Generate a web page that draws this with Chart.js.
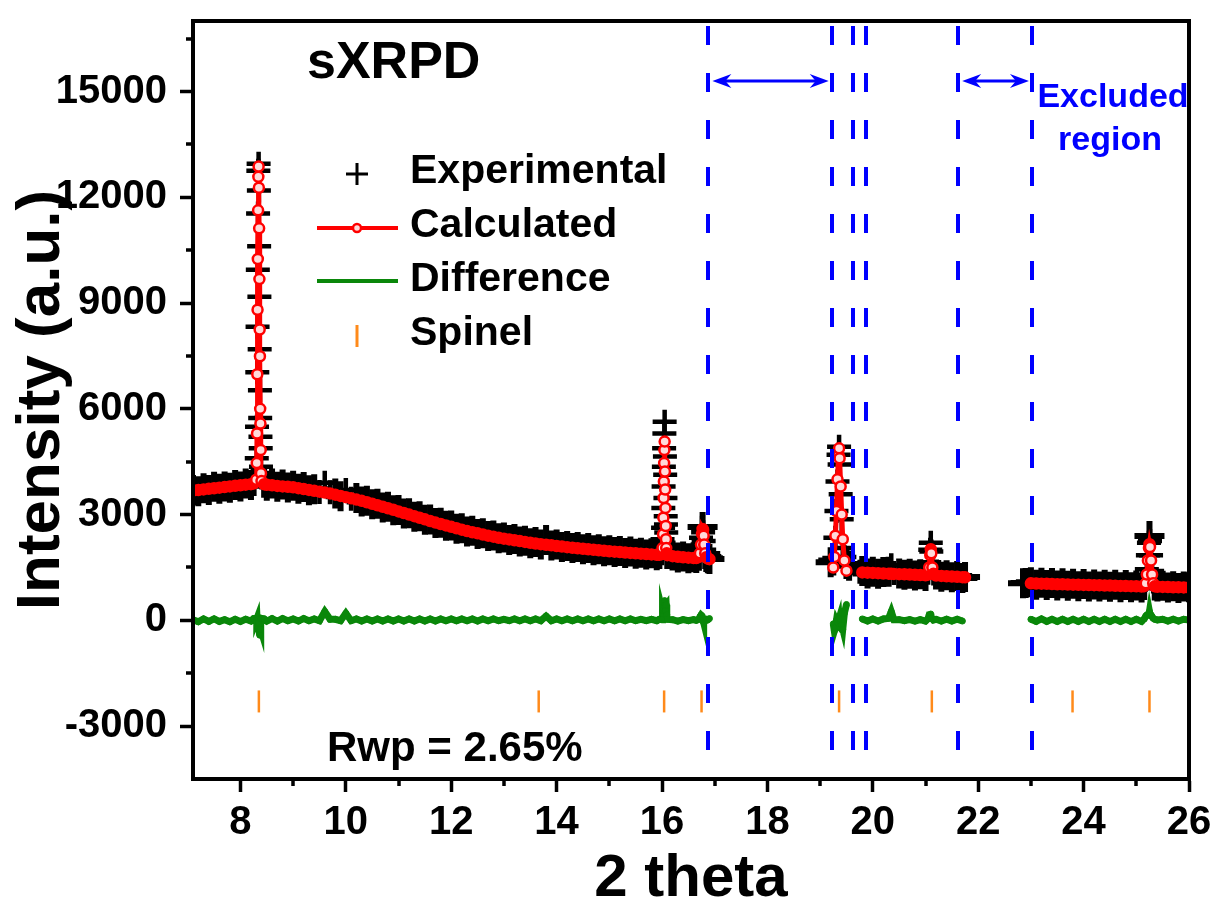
<!DOCTYPE html>
<html>
<head>
<meta charset="utf-8">
<title>sXRPD refinement</title>
<script src="https://cdn.jsdelivr.net/npm/chart.js@4.4.1/dist/chart.umd.min.js"></script>
<style>
  html, body { margin: 0; padding: 0; background: #fff; }
  #wrap { width: 1217px; height: 905px; }
</style>
</head>
<body>
<div id="wrap"><canvas id="xrpd" width="1217" height="905"></canvas></div>
<script>
// 2 theta positions (null rows in the series mark the gaps of the excluded regions)
const twoTheta = [
    7.1, 7.2, 7.3, 7.4, 7.5, 7.6, 7.7, 7.8, 7.9, 8.0, 8.1, 8.2, 8.25,
    8.30, 8.31, 8.315, 8.32, 8.325, 8.33, 8.335, 8.34, 8.345, 8.35, 8.355, 8.36, 8.365, 8.37, 8.375, 8.38, 8.385, 8.39, 8.40,
    8.45, 8.5, 8.6, 8.7, 8.8, 8.9, 9.0, 9.1, 9.2, 9.3,
    9.4, 9.5, 9.6, 9.7, 9.8, 9.9, 10.0, 10.1, 10.2, 10.3,
    10.4, 10.5, 10.6, 10.7, 10.8, 10.9, 11.0, 11.1, 11.2, 11.3,
    11.4, 11.5, 11.6, 11.7, 11.8, 11.9, 12.0, 12.1, 12.2, 12.3,
    12.4, 12.5, 12.6, 12.7, 12.8, 12.9, 13.0, 13.1, 13.2, 13.3,
    13.4, 13.5, 13.6, 13.7, 13.8, 13.9, 14.0, 14.1, 14.2, 14.3,
    14.4, 14.5, 14.6, 14.7, 14.8, 14.9, 15.0, 15.1, 15.2, 15.3,
    15.4, 15.5, 15.6, 15.7, 15.8, 15.9, 15.95,
    16.00, 16.01, 16.02, 16.025, 16.03, 16.035, 16.04, 16.045, 16.05, 16.055, 16.06, 16.065, 16.07, 16.075, 16.08, 16.09, 16.10,
    16.2, 16.3, 16.4, 16.5, 16.6, 16.65,
    16.70, 16.72, 16.74, 16.76, 16.77, 16.78, 16.79, 16.80, 16.82, 16.84, 16.87, 16.9,
    18.0,
    19.20, 19.25, 19.27, 19.29, 19.31, 19.33, 19.35, 19.36, 19.37, 19.39, 19.41, 19.43, 19.46, 19.50, 19.55, 19.62,
    19.75, 19.8, 19.9, 20.0, 20.1, 20.2, 20.3, 20.35, 20.4, 20.5, 20.6, 20.7, 20.8, 20.9, 21.0,
    21.05, 21.07, 21.09, 21.10, 21.11, 21.13, 21.15, 21.2, 21.3, 21.4, 21.5, 21.6, 21.7, 21.75,
    22.3,
    22.85, 22.9, 23.0, 23.1, 23.2, 23.3, 23.4, 23.5, 23.6, 23.7,
    23.8, 23.9, 24.0, 24.1, 24.2, 24.3, 24.4, 24.5, 24.6, 24.7,
    24.8, 24.9, 25.0, 25.1, 25.15, 25.18, 25.2, 25.22, 25.24, 25.25,
    25.26, 25.28, 25.3, 25.32, 25.35, 25.4, 25.5, 25.6, 25.7, 25.8,
    25.9, 26.0
];

const experimental = [
    3700, 3660, 3750, 3700, 3790, 3730, 3800, 3760, 3840, 3800, 3880, 3840, 3950,
    4100, 4600, 5490, 7040, 8330, 9945, 11540, 12750, 12950, 12190, 10610, 9180, 7690, 6530, 5740, 5210, 4880, 4360, 4050,
    3900, 3820, 3880, 3790, 3850, 3770, 3820, 3730, 3780, 3690,
    3720, 3640, 3900, 3630, 3600, 3520, 3700, 3450, 3470, 3370,
    3390, 3290, 3310, 3200, 3220, 3120, 3130, 3030, 3040, 2940,
    2950, 2850, 2860, 2760, 2770, 2680, 2690, 2600, 2610, 2520,
    2540, 2450, 2470, 2390, 2410, 2330, 2350, 2280, 2310, 2240,
    2260, 2190, 2220, 2150, 2280, 2120, 2150, 2080, 2110, 2050,
    2080, 2020, 2050, 1990, 2020, 1960, 1990, 1940, 1970, 1910,
    1950, 1890, 1920, 1870, 1900, 1850, 1880,
    1900, 2300, 2630, 3190, 3800, 4360, 4880, 5300, 5630, 4645, 4130, 3470, 2955, 2720, 2490, 2060, 1880,
    1840, 1780, 1810, 1760, 1790, 1770,
    1830, 2000, 2345, 2630, 2650, 2500, 2250, 2000, 1880, 1800, 1760, 1740,
    null,
    1650, 1700, 1770, 2340, 3100, 3940, 4700, 4926, 4420, 3575, 2870, 2055, 1800, 1600, 1550, 1620,
    1380, 1400, 1330, 1380, 1320, 1370, 1380, 1560, 1340, 1330, 1290, 1320, 1270, 1310, 1260,
    1350, 1650, 2000, 2200, 1950, 1550, 1330, 1300, 1240, 1280, 1220, 1260, 1200, 1230,
    null,
    1050, 1060, 1080, 1010, 1070, 1000, 1060, 990, 1050, 980,
    1040, 970, 1030, 960, 1020, 960, 1010, 950, 1010, 940,
    1000, 940, 990, 930, 1000, 1150, 1450, 1850, 2200, 2390,
    2250, 1850, 1400, 1100, 990, 960, 980, 930, 970, 920,
    960, 940
];

const calculated = [
    3680, 3697, 3714, 3730, 3747, 3764, 3781, 3798, 3815, 3832, 3849, 3863, 3880,
    3990, 4460, 5300, 6980, 8810, 10250, 11630, 12580, 12870, 12270, 11120, 9680, 8250, 7490, 6000, 5580, 4830, 4170, 3950,
    3860, 3846, 3830, 3814, 3800, 3786, 3772, 3750, 3726, 3700,
    3675, 3650, 3625, 3600, 3565, 3530, 3495, 3460, 3425, 3390,
    3350, 3307, 3265, 3222, 3180, 3138, 3090, 3045, 3000, 2955,
    2910, 2865, 2818, 2773, 2733, 2692, 2652, 2612, 2572, 2533,
    2500, 2467, 2435, 2403, 2373, 2343, 2318, 2295, 2272, 2248,
    2225, 2202, 2180, 2162, 2145, 2128, 2110, 2093, 2076, 2060,
    2045, 2030, 2016, 2002, 1988, 1974, 1961, 1948, 1936, 1924,
    1913, 1902, 1892, 1882, 1870, 1860, 1858,
    1880, 2050, 2440, 2910, 3470, 3940, 4460, 4830, 5070, 4220, 3710, 3190, 2675, 2300, 2050, 1900, 1850,
    1820, 1805, 1790, 1778, 1768, 1765,
    1800, 1900, 2150, 2450, 2590, 2560, 2400, 2150, 1900, 1790, 1750, 1736,
    null,
    null, 1500, 1800, 2400, 3100, 4000, 4700, 4880, 4600, 3800, 3000, 2300, 1700, 1410, null, null,
    null, 1360, 1352, 1345, 1338, 1330, 1324, 1320, 1318, 1311, 1305, 1298, 1290, 1285, 1280,
    1300, 1500, 1850, 2020, 1900, 1500, 1320, 1270, 1260, 1250, 1243, 1235, 1225, 1220,
    null,
    null, null, 1050, 1045, 1040, 1035, 1030, 1025, 1021, 1017,
    1013, 1009, 1005, 1001, 997, 993, 989, 985, 981, 977,
    973, 969, 965, 961, 970, 1050, 1300, 1700, 2050, 2160,
    2080, 1700, 1300, 1050, 965, 952, 948, 944, 940, 936,
    933, 930
];

const difference = [
    20, -40, 40, -30, 40, -30, 20, -40, 30, -30, 30, -20, 50,
    60, 40, 60, 20, -250, -200, -60, 60, 30, -60, -300, -350, -420, -250, -200, -250, 20, 60, 50,
    40, -20, 50, -20, 50, -10, 40, -20, 50, -10,
    40, -10, 250, 30, 30, -10, 200, -10, 40, -20,
    40, -20, 40, -20, 40, -20, 40, -20, 40, -20,
    40, -20, 40, -20, 40, -10, 40, -10, 40, -10,
    40, -20, 40, -10, 40, -10, 30, -10, 40, -10,
    40, -10, 40, -10, 120, -10, 40, -10, 40, -10,
    40, -10, 40, -10, 40, -10, 40, -10, 40, -10,
    40, -10, 30, -10, 30, -10, 30,
    20, 250, 190, 280, 330, 420, 420, 470, 560, 425, 420, 280, 280, 420, 440, 160, 30,
    20, -20, 20, -10, 20, 0,
    30, 100, 150, 120, 60, 0, -50, -60, 0, 30, 20, 50,
    null,
    null, -100, -300, -200, 0, -60, 0, 50, -180, -220, -130, -250, 200, 450, null, null,
    null, 40, -20, 40, -20, 40, 60, 250, 20, 20, -10, 20, -20, 20, -20,
    50, 150, 150, 180, 50, 50, 10, 30, -20, 30, -20, 30, -20, null,
    null,
    null, null, 30, -30, 40, -30, 30, -30, 30, -30,
    30, -30, 30, -30, 30, -30, 30, -30, 30, -30,
    30, -30, 30, -30, 40, 120, 150, 150, 150, 250,
    170, 150, 100, 60, 30, 10, 30, -20, 30, -20,
    30, 10
];

const spinelPeaks = [8.35, 13.66, 16.04, 16.75, 19.36, 21.12, 23.79, 25.25];
const spinelLevel = -2300;

const excludedLines = [16.88, 19.22, 19.62, 19.87, 21.62, 23.02];
const excludedArrows = [[16.88, 19.22], [21.62, 23.02]];
const arrowLevel = 15300;

const xTicks = [8, 10, 12, 14, 16, 18, 20, 22, 24, 26];
const xMinorTicks = [9, 11, 13, 15, 17, 19, 21, 23, 25];
const yTicks = [-3000, 0, 3000, 6000, 9000, 12000, 15000];
const yMinorTicks = [-1500, 1500, 4500, 7500, 10500, 13500, 16500];

if (experimental.length !== twoTheta.length || calculated.length !== twoTheta.length || difference.length !== twoTheta.length) {
    console.warn("length mismatch", twoTheta.length, experimental.length, calculated.length, difference.length);
}

const FONT = "'Liberation Sans', Arial, sans-serif";
Chart.defaults.font.family = FONT;
Chart.defaults.color = "#000";

function pairUp(ys) {
    return twoTheta.map((x, i) => ({ x: x, y: ys[i] === undefined ? null : ys[i] }));
}

// true when a point sits on a steep peak flank rather than on the background
function onPeak(ctx) {
    const d = ctx.dataset.data, i = ctx.dataIndex;
    const cur = d[i] ? d[i].y : null;
    const prev = d[i - 1] ? d[i - 1].y : null;
    const next = d[i + 1] ? d[i + 1].y : null;
    if (cur == null) return false;
    return (prev != null && Math.abs(cur - prev) > 200) || (next != null && Math.abs(next - cur) > 200);
}

function drawArrowHead(ctx, tipX, y, dir) {
    ctx.beginPath();
    ctx.moveTo(tipX, y);
    ctx.lineTo(tipX + dir * 19, y - 7);
    ctx.lineTo(tipX + dir * 13, y);
    ctx.lineTo(tipX + dir * 19, y + 7);
    ctx.closePath();
    ctx.fill();
}

const decorations = {
    id: "decorations",
    afterDatasetsDraw(chart) {
        const { ctx, chartArea: a, scales: { x, y } } = chart;
        ctx.save();

        // excluded region markers
        ctx.strokeStyle = "#0000ff";
        ctx.lineWidth = 4;
        ctx.setLineDash([19, 28]);
        ctx.lineDashOffset = -5;
        excludedLines.forEach(v => {
            const px = Math.round(x.getPixelForValue(v));
            ctx.beginPath();
            ctx.moveTo(px, a.top);
            ctx.lineTo(px, a.bottom);
            ctx.stroke();
        });
        ctx.setLineDash([]);

        const ay = Math.round(y.getPixelForValue(arrowLevel));
        ctx.fillStyle = "#0000ff";
        ctx.lineWidth = 3;
        excludedArrows.forEach(pair => {
            const x0 = x.getPixelForValue(pair[0]) + 4;
            const x1 = x.getPixelForValue(pair[1]) - 3;
            ctx.beginPath();
            ctx.moveTo(x0 + 10, ay);
            ctx.lineTo(x1 - 10, ay);
            ctx.stroke();
            drawArrowHead(ctx, x0, ay, 1);
            drawArrowHead(ctx, x1, ay, -1);
        });
        ctx.restore();
    },
    afterDraw(chart) {
        const { ctx, chartArea: a, scales: { x, y } } = chart;
        ctx.save();

        // frame
        ctx.strokeStyle = "#000";
        ctx.lineWidth = 4;
        ctx.strokeRect(a.left, a.top, a.right - a.left, a.bottom - a.top);

        // minor ticks
        ctx.lineWidth = 3.5;
        xMinorTicks.forEach(v => {
            const px = Math.round(x.getPixelForValue(v));
            ctx.beginPath();
            ctx.moveTo(px, a.bottom);
            ctx.lineTo(px, a.bottom + 7);
            ctx.stroke();
        });
        yMinorTicks.forEach(v => {
            const py = Math.round(y.getPixelForValue(v));
            ctx.beginPath();
            ctx.moveTo(a.left - 7, py);
            ctx.lineTo(a.left, py);
            ctx.stroke();
        });

        // labels inside the plot
        ctx.fillStyle = "#000";
        ctx.textAlign = "left";
        ctx.textBaseline = "alphabetic";
        ctx.font = "bold 52px " + FONT;
        ctx.fillText("sXRPD", 307, 78);
        ctx.font = "bold 42px " + FONT;
        ctx.fillText("Rwp = 2.65%", 327, 761);

        ctx.fillStyle = "#0000ff";
        ctx.textAlign = "center";
        ctx.font = "bold 34px " + FONT;
        ctx.fillText("Excluded", 1113, 107);
        ctx.fillText("region", 1110, 150);

        // legend
        const rows = [172, 226, 280, 334];
        const symX = 357;
        const labels = chart.data.datasets.map(d => d.label);
        ctx.fillStyle = "#000";
        ctx.textAlign = "left";
        ctx.textBaseline = "middle";
        ctx.font = "bold 41px " + FONT;
        labels.forEach((t, i) => ctx.fillText(t, 410, rows[i]));

        ctx.strokeStyle = "#000";
        ctx.lineWidth = 3;
        ctx.beginPath();
        ctx.moveTo(symX - 11, rows[0] + 2); ctx.lineTo(symX + 11, rows[0] + 2);
        ctx.moveTo(symX, rows[0] + 2 - 11); ctx.lineTo(symX, rows[0] + 2 + 11);
        ctx.stroke();

        ctx.lineWidth = 4;
        ctx.strokeStyle = "#ff0000";
        ctx.beginPath();
        ctx.moveTo(317, rows[1] + 2); ctx.lineTo(398, rows[1] + 2);
        ctx.stroke();
        ctx.fillStyle = "#ffd9d9";
        ctx.lineWidth = 2.5;
        ctx.beginPath();
        ctx.arc(symX, rows[1] + 2, 4, 0, Math.PI * 2);
        ctx.fill();
        ctx.stroke();

        ctx.lineWidth = 4;
        ctx.strokeStyle = "#0a870a";
        ctx.beginPath();
        ctx.moveTo(317, rows[2] + 1); ctx.lineTo(398, rows[2] + 1);
        ctx.stroke();

        ctx.lineWidth = 3;
        ctx.strokeStyle = "#ff8a1a";
        ctx.beginPath();
        ctx.moveTo(symX, rows[3] - 9); ctx.lineTo(symX, rows[3] + 13);
        ctx.stroke();

        ctx.restore();
    }
};

new Chart(document.getElementById("xrpd").getContext("2d"), {
    type: "line",
    data: {
        datasets: [
            {
                label: "Experimental",
                data: pairUp(experimental),
                showLine: false,
                pointStyle: "cross",
                pointRadius: ctx => onPeak(ctx) ? 12 : 15,
                pointBorderWidth: ctx => onPeak(ctx) ? 4.5 : 6,
                pointBorderColor: "#000",
                borderColor: "#000",
                order: 4
            },
            {
                label: "Calculated",
                data: pairUp(calculated),
                borderColor: "#ff0000",
                borderWidth: 5,
                tension: 0,
                pointStyle: "circle",
                pointRadius: 5,
                pointBorderWidth: 2.5,
                pointBorderColor: "#ff0000",
                pointBackgroundColor: ctx => onPeak(ctx) ? "#ffd9d9" : "#ff0000",
                spanGaps: false,
                order: 1
            },
            {
                label: "Difference",
                data: pairUp(difference),
                borderColor: "#0a870a",
                borderWidth: 7,
                pointStyle: "circle",
                pointRadius: 3,
                pointBorderWidth: 1,
                pointBorderColor: "#0a870a",
                pointBackgroundColor: "#0a870a",
                spanGaps: false,
                order: 2
            },
            {
                label: "Spinel",
                data: spinelPeaks.map(v => ({ x: v, y: spinelLevel })),
                showLine: false,
                pointStyle: "line",
                rotation: 90,
                pointRadius: 11,
                pointBorderWidth: 2.5,
                pointBorderColor: "#ff8a1a",
                borderColor: "#ff8a1a",
                order: 3
            }
        ]
    },
    options: {
        responsive: false,
        animation: false,
        devicePixelRatio: 1,
        events: [],
        layout: { padding: { top: 15, right: 28, left: 0, bottom: 0 } },
        plugins: {
            legend: { display: false },
            tooltip: { enabled: false }
        },
        scales: {
            x: {
                type: "linear",
                min: 7.1,
                max: 26,
                afterBuildTicks: s => { s.ticks = xTicks.map(v => ({ value: v })); },
                afterFit: s => { s.height = 126; s.paddingLeft = 0; s.paddingRight = 0; },
                grid: { display: true, drawOnChartArea: false, drawTicks: true, tickLength: 13, tickWidth: 3.5, tickColor: "#000", color: "#000" },
                border: { display: true, color: "#000", width: 4 },
                ticks: {
                    autoSkip: false,
                    maxRotation: 0,
                    padding: 7,
                    color: "#000",
                    font: { size: 40, weight: "bold" },
                    callback: v => String(v)
                },
                title: {
                    display: true,
                    text: "2 theta",
                    color: "#000",
                    font: { size: 60, weight: "bold", lineHeight: 0.8 },
                    padding: { top: 0, bottom: 2 }
                }
            },
            y: {
                type: "linear",
                min: -4500,
                max: 17000,
                afterBuildTicks: s => { s.ticks = yTicks.map(v => ({ value: v })); },
                afterFit: s => { s.width = 193; s.paddingTop = 0; s.paddingBottom = 0; },
                grid: { display: true, drawOnChartArea: false, drawTicks: true, tickLength: 13, tickWidth: 3.5, tickColor: "#000", color: "#000" },
                border: { display: true, color: "#000", width: 4 },
                ticks: {
                    padding: 13,
                    color: "#000",
                    font: { size: 40, weight: "bold" },
                    callback: v => String(v)
                },
                title: {
                    display: true,
                    text: "Intensity (a.u.)",
                    color: "#000",
                    font: { size: 62, weight: "bold", lineHeight: 1.2 },
                    padding: { top: 5, bottom: 0 }
                }
            }
        }
    },
    plugins: [decorations]
});
</script>
</body>
</html>
